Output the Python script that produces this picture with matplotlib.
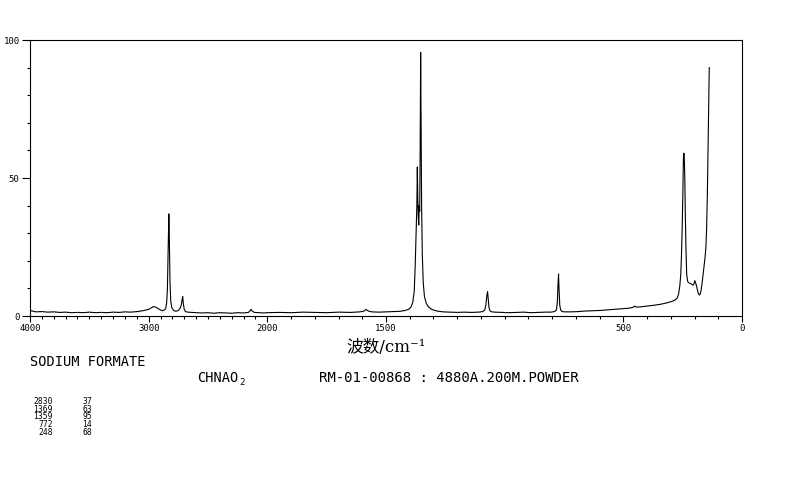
import numpy as np
import matplotlib.pyplot as plt
from matplotlib.ticker import FixedLocator, MultipleLocator

# spectrum (wavenumber / cm-1, intensity)
wavenumber = [3990, 3950, 3900, 3850, 3800, 3750, 3700, 3650, 3600, 3550, 3500,
              3450, 3400, 3350, 3300, 3250, 3200, 3150, 3100, 3050, 3000, 2975,
              2960, 2945, 2925, 2905, 2885, 2865, 2855, 2848, 2842, 2837, 2833,
              2830, 2827, 2824, 2820, 2814, 2805, 2790, 2770, 2750, 2735, 2725,
              2718, 2713, 2708, 2700, 2690, 2670, 2640, 2600, 2550, 2500, 2450,
              2400, 2350, 2300, 2250, 2200, 2160, 2145, 2137, 2128, 2110, 2070,
              2030, 2000, 1950, 1900, 1850, 1800, 1750, 1700, 1650, 1610, 1592,
              1584, 1575, 1560, 1530, 1500, 1470, 1440, 1420, 1405, 1395, 1387,
              1381, 1377, 1373, 1370, 1368, 1366, 1364, 1362, 1360, 1358, 1356,
              1354, 1352, 1350, 1347, 1343, 1338, 1330, 1320, 1305, 1285, 1260,
              1230, 1200, 1170, 1140, 1110, 1092, 1084, 1079, 1075, 1072, 1069,
              1066, 1062, 1055, 1040, 1010, 980, 950, 920, 890, 860, 830, 805,
              790, 782, 778, 775, 773, 771, 768, 764, 758, 745, 720, 690, 660,
              630, 600, 570, 540, 510, 480, 460, 452, 445, 430, 400, 370, 340,
              315, 295, 282, 273, 267, 262, 258, 255, 252, 249, 247, 245, 243,
              241, 239, 236, 233, 229, 224, 218, 212, 207, 203, 199, 196, 192,
              188, 184, 180, 176, 172, 168, 164, 160, 156, 152, 149, 146, 143,
              140, 138]
intensity = [1.9, 1.5, 1.6, 1.4, 1.5, 1.3, 1.4, 1.2, 1.3, 1.2, 1.4,
             1.2, 1.3, 1.2, 1.4, 1.3, 1.5, 1.4, 1.6, 1.9, 2.4, 3.0,
             3.4, 3.3, 2.8, 2.3, 1.9, 2.2, 3.0, 5.0, 10.0, 22.0, 32.0,
             37.0, 31.0, 22.0, 12.0, 5.5, 3.0, 2.0, 1.7, 2.0, 2.8, 4.0,
             6.0, 7.0, 4.5, 2.4, 1.6, 1.4, 1.3, 1.2, 1.1, 1.2, 1.0,
             1.2, 1.1, 1.0, 1.2, 1.1, 1.3, 1.9, 2.4, 1.8, 1.3, 1.2,
             1.1, 1.2, 1.3, 1.2, 1.4, 1.3, 1.2, 1.4, 1.3, 1.5, 1.8,
             2.4, 1.8, 1.5, 1.4, 1.5, 1.6, 1.7, 2.0, 2.4, 3.2, 5.0,
             9.0, 18.0, 30.0, 40.0, 54.0, 42.0, 36.0, 33.0, 40.0, 38.0, 62.0,
             95.5, 70.0, 40.0, 22.0, 12.0, 7.0, 4.5, 3.2, 2.3, 1.8, 1.5,
             1.4, 1.3, 1.4, 1.3, 1.4, 1.6, 2.2, 4.0, 7.5, 8.8, 6.0,
             3.0, 1.9, 1.5, 1.4, 1.3, 1.2, 1.3, 1.4, 1.2, 1.3, 1.4, 1.4,
             1.6, 2.2, 5.0, 12.0, 15.2, 10.0, 4.0, 2.2, 1.6, 1.5, 1.5, 1.6, 1.8,
             1.9, 2.0, 2.2, 2.4, 2.6, 2.8, 3.1, 3.6, 3.2, 3.3, 3.6, 3.9, 4.3,
             4.8, 5.3, 5.8, 6.5, 8.0, 11.0, 15.0, 22.0, 32.0, 45.0, 57.0, 59.0, 57.0,
             50.0, 38.0, 24.0, 15.0, 12.5, 12.0, 11.8, 11.5, 11.2, 11.5, 12.8, 12.2, 11.0,
             9.5, 8.2, 7.6, 8.0, 9.5, 12.0, 15.0, 18.0, 21.0, 25.0, 32.0, 44.0, 60.0,
             78.0, 90.0]

# peak table printed under the chart
peak_wn = [2830, 1369, 1359, 772, 248]
peak_int = [37, 63, 95, 14, 68]

x_major = [4000, 3000, 2000, 1500, 500, 0]
y_major = [0, 50, 100]


# 4000-2000 is drawn at half the scale of 2000-0
def fwd(x):
    x = np.asarray(x, dtype=float)
    return np.where(x > 2000, 2000 + (x - 2000) / 2, x)


def inv(t):
    t = np.asarray(t, dtype=float)
    return np.where(t > 2000, 2000 + (t - 2000) * 2, t)


W, H = 794, 482
fig = plt.figure(figsize=(W / 100, H / 100), dpi=100)
ax = fig.add_axes([30 / W, 1 - 316 / H, 712 / W, 276 / H])

ax.plot(wavenumber, intensity, color='black', lw=0.8)
ax.set_xscale('function', functions=(fwd, inv))
ax.set_xlim(4000, 0)
ax.set_ylim(0, 100)

ax.xaxis.set_major_locator(FixedLocator(x_major))
ax.xaxis.set_minor_locator(MultipleLocator(100))
ax.yaxis.set_major_locator(FixedLocator(y_major))
ax.yaxis.set_minor_locator(MultipleLocator(10))
ax.set_xticklabels([str(v) for v in x_major])
ax.set_yticklabels([str(v) for v in y_major])

ax.tick_params(axis='x', which='major', direction='out', length=4, width=0.8,
               pad=2, labelsize=6.5)
ax.tick_params(axis='x', which='minor', direction='out', length=2, width=0.8)
ax.tick_params(axis='y', which='major', direction='out', length=6, width=0.8,
               pad=1.5, labelsize=6.5)
ax.tick_params(axis='y', which='minor', direction='out', length=2.2, width=0.8)
for lab in ax.get_xticklabels() + ax.get_yticklabels():
    lab.set_family('DejaVu Sans Mono')
for sp in ax.spines.values():
    sp.set_linewidth(0.8)

ax.set_xlabel('波数/cm⁻¹', family=['DejaVu Serif', 'Noto Sans CJK SC'],
              fontsize=12, labelpad=4)

mono = 'DejaVu Sans Mono'
fig.text(30 / W, 1 - 366 / H, 'SODIUM FORMATE', family=mono, fontsize=9.8)
fig.text(197 / W, 1 - 382 / H, 'CHNAO', family=mono, fontsize=9.8)
fig.text(239 / W, 1 - 385 / H, '2', family=mono, fontsize=6.5)
fig.text(319 / W, 1 - 382 / H, 'RM-01-00868 : 4880A.200M.POWDER',
         family=mono, fontsize=10.1)

for i, (w, v) in enumerate(zip(peak_wn, peak_int)):
    yy = 1 - (401.7 + i * 7.6) / H
    fig.text(53 / W, yy, str(w), family=mono, fontsize=5.8, ha='right', va='center')
    fig.text(92 / W, yy, str(v), family=mono, fontsize=5.8, ha='right', va='center')

fig.savefig('out.png', dpi=100)
